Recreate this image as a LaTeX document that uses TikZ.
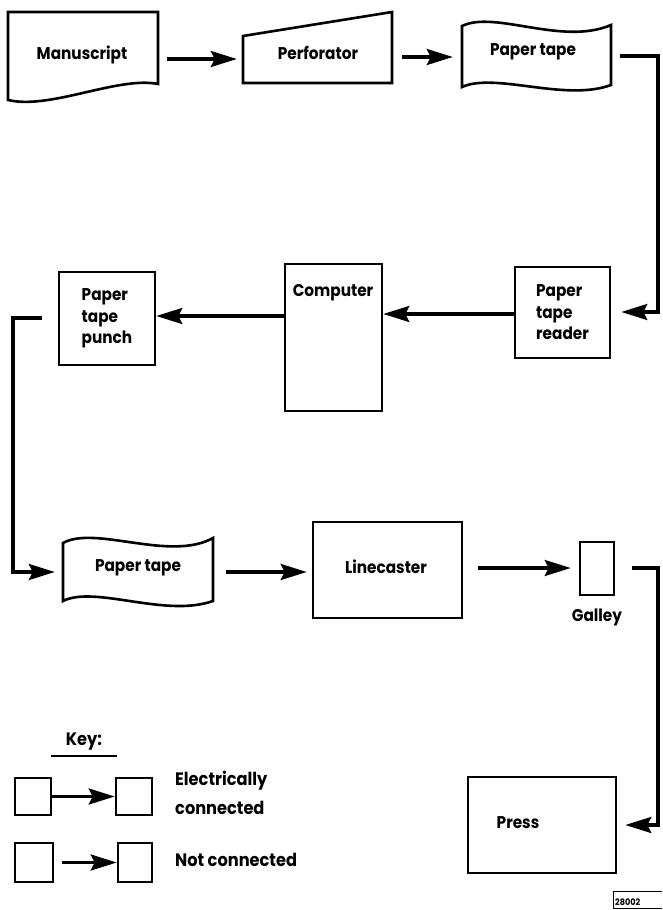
\documentclass[tikz,border=0pt]{standalone}
\usepackage{fontspec}
\setmainfont{Poppins}[FakeStretch=0.9]
\usetikzlibrary{arrows.meta}
\newcommand\dgfont{\fontsize{17}{21.5}\selectfont\bfseries}
\newcommand\keyfont{\fontsize{18}{29}\selectfont\bfseries}
\begin{document}
\begin{tikzpicture}[x=1pt,y=-1pt,
  shp/.style={draw=black, line width=2.6pt, line join=miter},
  box/.style={shp, rectangle, inner sep=0pt, font=\dgfont, align=left},
  hold/.style={rectangle, inner sep=0pt, draw=none},
  lbl/.style={inner sep=0pt, font=\dgfont},
  arr/.style={line width=3.2pt, -{Stealth[length=26pt,width=16pt,inset=4pt]}},
]
\useasboundingbox (0,0) rectangle (662,910);

% Manuscript (document shape)
\node[hold, minimum width=150pt, minimum height=88pt] (ms) at (83,56) {};
\node[lbl] (mst) at (82,55) {Manuscript};
\draw[shp] (8,12) -- (158,12) -- (158,84) .. controls (118,76) and (50,110) .. (8,100) -- cycle;

% Perforator (manual input shape)
\node[hold, minimum width=149pt, minimum height=71pt] (pf) at (317.5,47.5) {};
\node[lbl] (pft) at (318,53) {Perforator};
\draw[shp] (243,83) -- (243,36) -- (392,12) -- (392,83) -- cycle;

% Paper tape 1
\node[hold, minimum width=149pt, minimum height=61pt] (pt1) at (536.5,56.5) {};
\node[lbl] (pt1t) at (533,52) {Paper tape};
\draw[shp] (462,26) .. controls (495,10) and (562,46) .. (611,25) -- (611,85)
  .. controls (565,102) and (495,72) .. (462,87) -- cycle;

% Paper tape reader
\node[box, minimum width=95pt, minimum height=91pt] (rd) at (562.5,312.5) {Paper\\tape\\reader};

% Computer
\node[box, minimum width=97pt, minimum height=147pt] (cp) at (333.5,337.5) {};
\node[lbl] (cpt) at (333,293) {Computer};

% Paper tape punch
\node[box, minimum width=96pt, minimum height=93pt] (pu) at (107,318.5) {Paper\\tape\\punch};

% Paper tape 2
\node[hold, minimum width=150pt, minimum height=59pt] (pt2) at (138,572.5) {};
\node[lbl] (pt2t) at (138,568) {Paper tape};
\draw[shp] (63,543) .. controls (95,525) and (170,562) .. (213,538) -- (213,601)
  .. controls (165,618) and (95,585) .. (63,601) -- cycle;

% Linecaster
\node[box, minimum width=149pt, minimum height=96pt] (lc) at (387.5,570) {};
\node[lbl] (lct) at (386,567) {Linecaster};

% Galley
\node[box, minimum width=34pt, minimum height=53pt] (ga) at (597,568.5) {};
\node[lbl] (gat) at (597,617) {Galley};

% Press
\node[box, minimum width=148pt, minimum height=96pt] (pr) at (542,825) {};
\node[lbl] (prt) at (518,823) {Press};

% connectors
\draw[arr, shorten <=9pt, shorten >=6pt] (ms.east |- 0,59) -- (pf.west |- 0,59);
\draw[arr, shorten <=10pt, shorten >=9pt] (pf.east |- 0,57) -- (pt1.west |- 0,57);
\coordinate (r1) at (658,56);
\coordinate (r2) at (658,312);
\draw[arr, shorten <=9pt, shorten >=10pt, line join=miter] (pt1.east |- r1) -- (r1) -- (r2) -- (rd.east |- r2);
\draw[arr] (rd.west |- 0,314) -- (cp.east |- 0,314);
\draw[arr] (cp.west |- 0,316) -- (pu.east |- 0,316);
\coordinate (l1) at (13,318);
\coordinate (l2) at (13,572);
\draw[arr, shorten <=16pt, shorten >=8pt, line join=miter] (pu.west |- l1) -- (l1) -- (l2) -- (pt2.west |- l2);
\draw[arr, shorten <=13pt, shorten >=5pt] (pt2.east |- 0,572) -- (lc.west |- 0,572);
\draw[arr, shorten <=15pt, shorten >=8pt] (lc.east |- 0,568) -- (ga.west |- 0,568);
\coordinate (g1) at (658,568);
\coordinate (g2) at (658,825);
\draw[arr, shorten <=17pt, shorten >=8pt, line join=miter] (ga.east |- g1) -- (g1) -- (g2) -- (pr.east |- g2);

% Key
\node[inner sep=0pt, font=\keyfont] (key) at (84,742) {Key:};
\draw[line width=2.2pt] (51,756) -- (117,756);
\node[box, minimum width=36pt, minimum height=37pt] (k1) at (33,796.5) {};
\node[box, minimum width=36pt, minimum height=37pt] (k2) at (134,796.5) {};
\draw[arr] (k1) -- (k2);
\node[box, minimum width=38pt, minimum height=39pt] (k3) at (34,862.5) {};
\node[box, minimum width=34pt, minimum height=39pt] (k4) at (135,862.5) {};
\draw[arr, shorten <=8pt] (k3) -- (k4);
\node[inner sep=0pt, anchor=west, align=left, font=\keyfont] (e1) at (175,792.5) {Electrically\\connected};
\node[inner sep=0pt, anchor=west, font=\keyfont] (e2) at (175,860) {Not connected};

% figure id
\draw[line width=1pt] (662,891) -- (613,891) -- (613,908) -- (662,908);
\node[inner sep=1pt, anchor=south west, font=\fontsize{9}{9}\selectfont\bfseries] (fid) at (614,907) {28002};
\end{tikzpicture}
\end{document}
